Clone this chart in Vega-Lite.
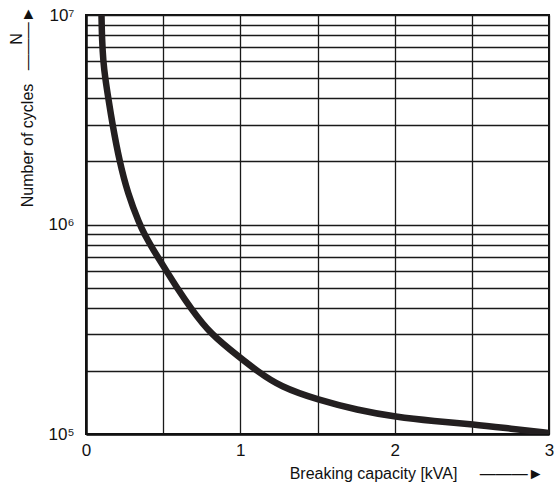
{
  "$schema": "https://vega.github.io/schema/vega-lite/v6.json",
  "width": 463,
  "height": 419,
  "autosize": {"type": "none"},
  "padding": {"left": 86, "top": 15, "right": 5, "bottom": 50},
  "background": "white",
  "config": {
    "view": {"stroke": "#111111", "strokeWidth": 2},
    "axis": {
      "domainColor": "#111111",
      "domainWidth": 2.5,
      "gridColor": "#1a1a1a",
      "gridWidth": 1.3,
      "gridOpacity": 1,
      "labelFont": "Liberation Sans",
      "labelFontSize": 17,
      "labelColor": "#111111",
      "titleFont": "Liberation Sans",
      "titleFontSize": 16,
      "titleFontWeight": "normal",
      "titleColor": "#111111"
    }
  },
  "data": {
    "values": [
      {"capacity": 0.1004, "cycles": 10000000},
      {"capacity": 0.1037, "cycles": 7600000},
      {"capacity": 0.1121, "cycles": 6000000},
      {"capacity": 0.1244, "cycles": 5000000},
      {"capacity": 0.1445, "cycles": 4000000},
      {"capacity": 0.1717, "cycles": 3000000},
      {"capacity": 0.2171, "cycles": 2000000},
      {"capacity": 0.2696, "cycles": 1414000},
      {"capacity": 0.3473, "cycles": 1000000},
      {"capacity": 0.3784, "cycles": 900000},
      {"capacity": 0.4173, "cycles": 800000},
      {"capacity": 0.4646, "cycles": 700000},
      {"capacity": 0.521, "cycles": 600000},
      {"capacity": 0.589, "cycles": 500000},
      {"capacity": 0.6771, "cycles": 400000},
      {"capacity": 0.8054, "cycles": 300000},
      {"capacity": 1.0011, "cycles": 230600},
      {"capacity": 1.108, "cycles": 200000},
      {"capacity": 1.257, "cycles": 168200},
      {"capacity": 1.5052, "cycles": 145300},
      {"capacity": 1.756, "cycles": 130200},
      {"capacity": 2.0087, "cycles": 120500},
      {"capacity": 2.2549, "cycles": 115200},
      {"capacity": 2.5076, "cycles": 111300},
      {"capacity": 2.7538, "cycles": 106000},
      {"capacity": 3.0, "cycles": 101200}
    ]
  },
  "mark": {"type": "line", "interpolate": "basis", "color": "#231f20", "strokeWidth": 6.5, "clip": true},
  "encoding": {
    "x": {
      "field": "capacity",
      "type": "quantitative",
      "scale": {"domain": [0, 3], "nice": false, "zero": false},
      "axis": {
        "values": [0, 0.5, 1, 1.5, 2, 2.5, 3],
        "labelExpr": "datum.value % 1 === 0 ? toString(datum.value) : ''",
        "ticks": false,
        "labelPadding": 8,
        "labelFlush": false,
        "labelOverlap": false,
        "title": "Breaking capacity [kVA]\u00a0\u00a0\u00a0\u00a0\u00a0———►",
        "titleAlign": "right",
        "titleBaseline": "alphabetic",
        "titleX": 457,
        "titleY": 44
      }
    },
    "y": {
      "field": "cycles",
      "type": "quantitative",
      "scale": {"type": "log", "domain": [100000, 10000000], "nice": false},
      "axis": {
        "values": [100000, 200000, 300000, 400000, 500000, 600000, 700000, 800000, 900000, 1000000, 2000000, 3000000, 4000000, 5000000, 6000000, 7000000, 8000000, 9000000, 10000000],
        "labelExpr": "datum.value == 100000 ? '10⁵' : datum.value == 1000000 ? '10⁶' : datum.value == 10000000 ? '10⁷' : ''",
        "ticks": false,
        "labelPadding": 12,
        "labelOverlap": false,
        "labelFlush": false,
        "title": ["N\u00a0\u00a0\u00a0\u00a0\u00a0\u00a0\u200b", "Number of cycles\u00a0\u00a0\u00a0———►"],
        "titleAngle": -90,
        "titleAlign": "right",
        "titleBaseline": "alphabetic",
        "titleX": -65,
        "titleY": -9,
        "titleLineHeight": 11.5
      }
    }
  }
}
